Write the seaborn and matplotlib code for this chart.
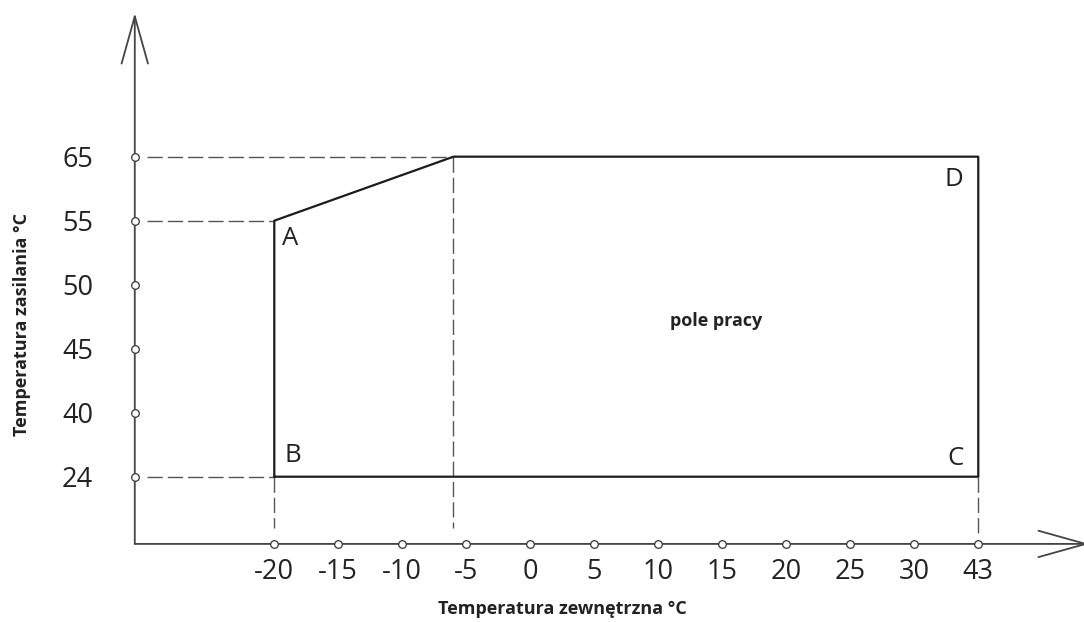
import numpy as np
import pandas as pd
import matplotlib
matplotlib.use('Agg')
import matplotlib.pyplot as plt
import seaborn as sns

sns.set_style('white')
plt.rcParams['font.family'] = ['Open Sans', 'DejaVu Sans']
plt.rcParams['lines.scale_dashes'] = False

# --- dane ---
temp_zewn = [-20, -15, -10, -5, 0, 5, 10, 15, 20, 25, 30, 43]   # os X
temp_zasil = [24, 40, 45, 50, 55, 65]                           # os Y
obszar_x = [-20, -20, -6, 43, 43, -20]                          # pole pracy
obszar_y = [24, 55, 65, 65, 24, 24]


# skala nieliniowa - kazda podzialka w tej samej odleglosci
def pos_x(v):
    return np.interp(v, temp_zewn, np.arange(len(temp_zewn)))


def pos_y(v):
    return np.interp(v, temp_zasil, np.arange(len(temp_zasil)))


X0, Y0 = -2.18, -1.05   # polozenie osi
kolor_os = '#444444'
kolor_lin = '#1c1c1c'
kolor_przer = '#555555'

fig = plt.figure(figsize=(10.84, 6.22), dpi=100)
ax = fig.add_axes([0, 0, 1, 1])
ax.set_xlim(-4.286, 12.652)
ax.set_ylim(-2.27, 7.448)

# pole pracy
df = pd.DataFrame({'x': pos_x(obszar_x), 'y': pos_y(obszar_y)})
sns.lineplot(data=df, x='x', y='y', sort=False, estimator=None,
             color=kolor_lin, lw=1.6, ax=ax, zorder=3)

# linie pomocnicze (przerywane)
kreska = dict(color=kolor_przer, lw=1.0, dashes=(11, 3.6), zorder=2)
ax.plot([X0 + 0.19, pos_x(-6)], [pos_y(65)] * 2, **kreska)
ax.plot([X0 + 0.19, pos_x(-20)], [pos_y(55)] * 2, **kreska)
ax.plot([X0 + 0.19, pos_x(-20)], [pos_y(24)] * 2, **kreska)
ax.plot([pos_x(-20)] * 2, [pos_y(24), Y0 + 0.25], **kreska)
ax.plot([pos_x(-6)] * 2, [pos_y(65), Y0 + 0.25], **kreska)
ax.plot([pos_x(43)] * 2, [pos_y(24), Y0 + 0.17], **kreska)

# osie ze strzalkami
strzalka = dict(arrowstyle='->,head_length=34,head_width=9.5', mutation_scale=1,
                lw=1.3, color=kolor_os, shrinkA=0, shrinkB=0)
ax.annotate('', xy=(X0, 7.245), xytext=(X0, Y0), arrowprops=strzalka,
            annotation_clip=False, zorder=2)
ax.annotate('', xy=(12.73, Y0), xytext=(X0, Y0), arrowprops=strzalka,
            annotation_clip=False, zorder=2)

# podzialki jako kolka
sns.scatterplot(x=pos_x(temp_zewn), y=[Y0] * len(temp_zewn), marker='o', s=30,
                facecolor='white', edgecolor='#333333', linewidth=0.9, ax=ax, zorder=4)
sns.scatterplot(x=[X0] * len(temp_zasil), y=pos_y(temp_zasil), marker='o', s=30,
                facecolor='white', edgecolor='#333333', linewidth=0.9, ax=ax, zorder=4)

ax.set_xticks(pos_x(temp_zewn), labels=[str(t) for t in temp_zewn])
ax.set_yticks(pos_y(temp_zasil), labels=[str(t) for t in temp_zasil])
ax.tick_params(axis='both', length=0, labelsize=19.5, labelcolor='#222222')
ax.tick_params(axis='x', pad=10)
ax.tick_params(axis='y', pad=30)
for s in ax.spines.values():
    s.set_visible(False)
ax.spines['left'].set_position(('data', X0))
ax.spines['bottom'].set_position(('data', Y0))

# oznaczenia punktow
litery = dict(textcoords='offset pixels', va='baseline', fontsize=18.5, color='#222222')
ax.annotate('A', xy=(pos_x(-20), pos_y(55)), xytext=(8, -24), ha='left', **litery)
ax.annotate('B', xy=(pos_x(-20), pos_y(24)), xytext=(10, 15), ha='left', **litery)
ax.annotate('C', xy=(pos_x(43), pos_y(24)), xytext=(-15, 12), ha='right', **litery)
ax.annotate('D', xy=(pos_x(43), pos_y(65)), xytext=(-15, -29), ha='right', **litery)

ax.text(pos_x(14.5), pos_y(47.2), 'pole pracy', ha='center', va='center',
        fontsize=13, fontweight='bold', color='#222222')

ax.set_xlabel('Temperatura zewnętrzna °C', fontsize=13, fontweight='bold',
              color='#222222', va='center')
ax.xaxis.set_label_coords(562 / 1084, 1 - 609 / 622)
ax.set_ylabel('Temperatura zasilania °C', fontsize=13, fontweight='bold',
              color='#222222', va='center')
ax.yaxis.set_label_coords(22 / 1084, 1 - 324 / 622)

plt.savefig('out.png', dpi=100)
